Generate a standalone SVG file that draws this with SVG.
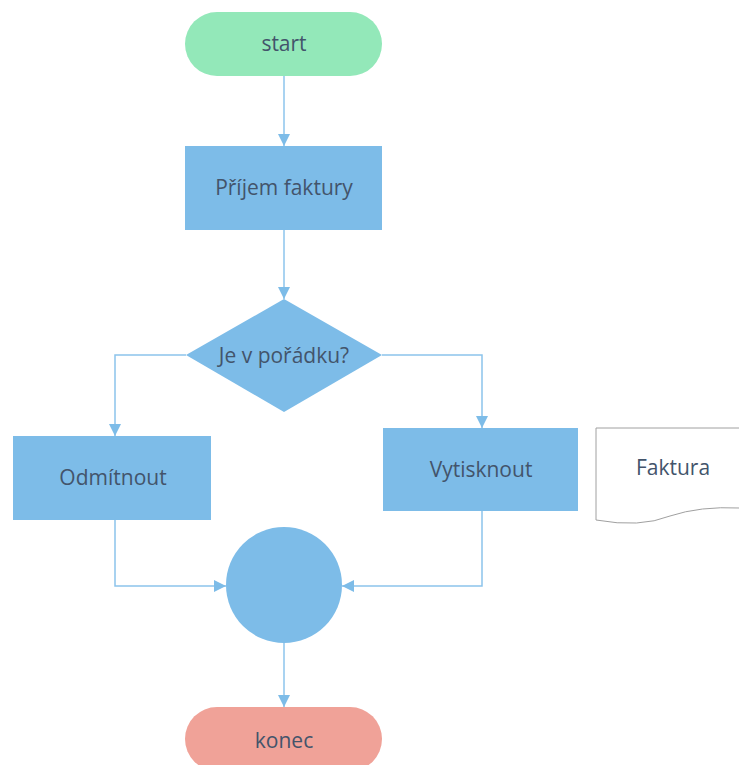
<svg xmlns="http://www.w3.org/2000/svg" width="739" height="765" viewBox="0 0 739 765">
<defs>
<marker id="arr" markerWidth="14" markerHeight="14" refX="12" refY="6" orient="auto" markerUnits="userSpaceOnUse">
<path d="M0,0 L12,6 L0,12 z" fill="#7dbce8"/>
</marker>
<style>
.t{font-family:"Open Sans","Noto Sans","Liberation Sans",sans-serif;font-size:21px;fill:#43546b;text-anchor:middle;dominant-baseline:central}
.b{fill:#7dbce8}
.c{fill:none;stroke:#8cc4ec;stroke-width:1.5;marker-end:url(#arr)}
</style>
</defs>
<rect width="739" height="765" fill="#ffffff"/>
<g id="connectors">
<path class="c" d="M284,76 L284,146"/>
<path class="c" d="M284,230 L284,299"/>
<path class="c" d="M186,355 L115,355 L115,436"/>
<path class="c" d="M382,355 L482,355 L482,428"/>
<path class="c" d="M115,520 L115,586 L226,586"/>
<path class="c" d="M482,511 L482,586 L342,586"/>
<path class="c" d="M284,643 L284,707"/>
</g>
<g id="start">
<rect x="185" y="12" width="197" height="64" rx="32" fill="#93e8b9"/>
<text class="t" x="284" y="43">start</text>
</g>
<g id="prijem">
<rect class="b" x="185" y="146" width="197" height="84"/>
<text class="t" x="284" y="187">Příjem faktury</text>
</g>
<g id="decision">
<polygon class="b" points="284,299 382,355 284,412 186,355"/>
<text class="t" x="284" y="355">Je v pořádku?</text>
</g>
<g id="odmitnout">
<rect class="b" x="13" y="436" width="198" height="84"/>
<text class="t" x="113" y="477">Odmítnout</text>
</g>
<g id="vytisknout">
<rect class="b" x="383" y="428" width="195" height="83"/>
<text class="t" x="481" y="469">Vytisknout</text>
</g>
<g id="faktura">
<path d="M596,428 L740,428 L740,508 Q700,506 670,516 Q640,528 596,520 Z" fill="#ffffff" stroke="#a0a0a0" stroke-width="1"/>
<text class="t" x="673" y="467">Faktura</text>
</g>
<g id="merge">
<circle class="b" cx="284" cy="585" r="58"/>
</g>
<g id="konec">
<rect x="185" y="707" width="197" height="64" rx="32" fill="#f0a298"/>
<text class="t" x="284" y="740">konec</text>
</g>
</svg>
